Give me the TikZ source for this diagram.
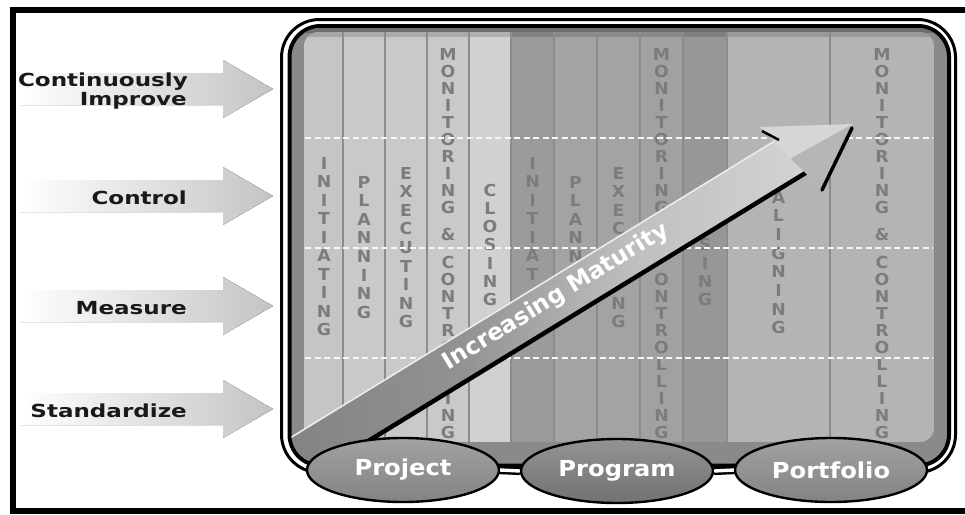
\documentclass[tikz,border=0pt]{standalone}
\usepackage{fontspec}
\usepackage{graphicx}
\newfontfamily\heavy{DejaVu Sans}
\usetikzlibrary{shapes.geometric}

\definecolor{pjA}{HTML}{C5C5C5}
\definecolor{pjB}{HTML}{C9C9C9}
\definecolor{pjC}{HTML}{D1D1D1}
\definecolor{pgA}{HTML}{9B9B9B}
\definecolor{pgB}{HTML}{A3A3A3}
\definecolor{pgC}{HTML}{A1A1A1}
\definecolor{pgD}{HTML}{979797}
\definecolor{pfA}{HTML}{B4B4B4}
\definecolor{sepgray}{HTML}{8C8C8C}
\definecolor{lettergray}{HTML}{7C7C7C}
\definecolor{bandgray}{HTML}{8A8A8A}
\definecolor{bandtop}{HTML}{6E6E6E}
\definecolor{arrowgray}{HTML}{C4C4C4}
\definecolor{shA}{HTML}{7E7E7E}
\definecolor{shB}{HTML}{929292}
\definecolor{shC}{HTML}{BFBFBF}
\definecolor{shD}{HTML}{D3D3D3}
\definecolor{headlight}{HTML}{D6D6D6}
\definecolor{headdark}{HTML}{B6B6B6}
\definecolor{stageT}{HTML}{A2A2A2}
\definecolor{stageB}{HTML}{838383}
\definecolor{stageTd}{HTML}{939393}
\definecolor{stageBd}{HTML}{727272}

\pgfdeclarehorizontalshading{shaftshade}{100bp}{color(0bp)=(shA); color(25bp)=(shA); color(45bp)=(shB); color(60bp)=(shC); color(75bp)=(shD); color(100bp)=(shD)}

% stack the letters of a word vertically: prefix, x, y of first letter, pitch, letters
% (an empty entry keeps the slot of a letter that lies under the arrow)
\newcommand\stackword[5]{%
  \foreach \ltr [count=\k] in {#5}{%
    \node[colletter] (#1\k) at (#2,{#3+(\k-1)*#4}) {\scalebox{1.05}[1]{\ltr}};
  }%
}

\begin{document}
\begin{tikzpicture}[x=1pt,y=-1pt,
  colletter/.style={font=\heavy\bfseries\fontsize{16.5}{16.5}\selectfont, text=lettergray, inner sep=0pt, text height=12pt, text depth=0pt},
  sidelabel/.style={font=\heavy\bfseries\fontsize{18}{19}\selectfont, text=black!90, inner sep=0pt, anchor=base east},
  sepline/.style={draw=sepgray, line width=1.2pt},
  gridline/.style={draw=white!94!gray, line width=1.3pt, dash pattern=on 6pt off 3.5pt},
  stage/.style={ellipse, draw=black, line width=2.4pt, minimum width=192pt, minimum height=64pt, inner sep=0pt, text=white, font=\heavy\bfseries\fontsize{22}{22}\selectfont},
  link/.style={draw=black, line width=2.4pt, double=white, double distance=3.4pt},
  sidearrow/.style={left color=white, right color=arrowgray}
]
\useasboundingbox (0,0) rectangle (965,514);
\fill[white] (0,0) rectangle (965,514);

% page frame
\draw[line width=6pt] (975,10) -- (13,10) -- (13,511) -- (975,511);

% side arrows with their labels
\foreach \yc in {89,196,306,409}{
  \fill[sidearrow] (20,\yc-16) -- (223,\yc-16) -- (223,\yc-29) -- (273,\yc)
        -- (223,\yc+29) -- (223,\yc+16) -- (20,\yc+16) -- cycle;
}
\node[sidelabel] (lcont) at (188,86.5) {\scalebox{1.28}[1]{Continuously}};
\node[sidelabel] (limpr) at (187,105) {\scalebox{1.28}[1]{Improve}};
\node[sidelabel] (lctrl) at (187,204) {\scalebox{1.28}[1]{Control}};
\node[sidelabel] (lmeas) at (187,314) {\scalebox{1.28}[1]{Measure}};
\node[sidelabel] (lstd)  at (187,417) {\scalebox{1.28}[1]{Standardize}};

% panel frame: black, white, black
\draw[line width=3pt, fill=white, rounded corners=38pt] (281.5,19.5) rectangle (955.5,472.5);
\draw[line width=4pt, fill=bandgray, rounded corners=31pt] (289.5,26) rectangle (949,465.5);
\begin{scope}
  \clip[rounded corners=29pt] (291.5,28) rectangle (947,463.5);
  \fill[bandtop] (291.5,28) rectangle (947,33);
\end{scope}

% phase columns
\begin{scope}
  \clip[rounded corners=14pt] (304,32) rectangle (934,442);
  \fill[pjA] (304,32) rectangle (343,442);
  \fill[pjB] (343,32) rectangle (469,442);
  \fill[pjC] (469,32) rectangle (511,442);
  \fill[pgA] (511,32) rectangle (554,442);
  \fill[pgB] (554,32) rectangle (640,442);
  \fill[pgC] (640,32) rectangle (683,442);
  \fill[pgD] (683,32) rectangle (727,442);
  \fill[pfA] (727,32) rectangle (934,442);
  \fill[black, opacity=.15] (304,32) rectangle (934,37);
  \foreach \xs in {343,385,427,469,511,554,597,640,683,727,830}{
    \draw[sepline] (\xs,32) -- (\xs,442);
  }
\end{scope}

% project phases
\stackword{ia}{324}{163}{18.55}{I,N,I,T,I,A,T,I,N,G}
\stackword{pa}{364}{182}{18.6}{P,L,A,N,N,I,N,G}
\stackword{ea}{406}{173}{18.6}{E,X,E,C,U,T,I,N,G}
\stackword{ma}{448}{54}{17}{M,O,N,I,T,O,R,I,N,G}
\node[colletter] (ampa) at (448,234) {\&};
\stackword{ka}{448}{262}{17}{C,O,N,T,R,O,{},{},I,N,G}
\stackword{la}{490}{190}{18.3}{C,L,O,S,I,N,G}
% program phases
\stackword{ib}{532.5}{163}{18.55}{I,N,I,T,I,A,T,{},{},{}}
\stackword{pb}{575.5}{182}{18.6}{P,L,A,N,N,{},{},{}}
\stackword{eb}{618.5}{173}{18.6}{E,X,E,C,{},{},{},N,G}
\stackword{mb}{661.5}{54}{17}{M,O,N,I,T,O,R,I,N,G}
\stackword{kb}{661.5}{262}{17}{{},O,N,T,R,O,L,L,I,N,G}
\stackword{lb}{705}{190}{18.3}{{},{},{},S,I,N,G}
% portfolio phases
\stackword{gc}{778.5}{197}{18.7}{A,L,I,G,N,I,N,G}
\stackword{mc}{882}{54}{17}{M,O,N,I,T,O,R,I,N,G}
\node[colletter] (ampc) at (882,234) {\&};
\stackword{kc}{882}{262}{17}{C,O,N,T,R,O,L,L,I,N,G}

% maturity levels
\foreach \yd in {138,248,358}{
  \draw[gridline] (305,\yd) -- (933,\yd);
}

% maturity arrow
\coordinate (sA) at (230,474.8);
\coordinate (sB) at (774.1,141.3);
\coordinate (sC) at (806.6,174.3);
\coordinate (sD) at (230,527.8);
\coordinate (hU) at (760,127);
\coordinate (hT) at (853,124);
\coordinate (hL) at (822,190);
\coordinate (hM) at (791,158.5);
\begin{scope}
  \clip[rounded corners=29pt] (291.5,28) rectangle (947,463.5);
  \shade[shading=shaftshade] (sA) -- (sB) -- (sC) -- (sD) -- cycle;
  \draw[white!85!gray, line width=1.6pt] (sA) -- (sB);
  \draw[black, line width=4.5pt] (230,525.8) -- (806.6,172.3);
  \fill[headlight] (hU) -- (hT) -- (hM) -- cycle;
  \fill[headdark] (hM) -- (hT) -- (hL) -- cycle;
  \draw[black, line width=3.5pt, line cap=round] (852,128) -- (hL);
  \draw[black, line width=2.5pt] (762,131) -- (779,140);
  \node[rotate=31.5, text=white, inner sep=0pt, font=\heavy\bfseries\fontsize{23.5}{23.5}\selectfont] (incr) at (556,297) {Increasing Maturity};
\end{scope}

% scope levels
\node[stage, top color=stageT, bottom color=stageB] (proj) at (403,470) {\scalebox{1.1}[1]{Project}};
\node[stage, top color=stageTd, bottom color=stageBd] (prog) at (617,471) {\scalebox{1.1}[1]{Program}};
\node[stage, top color=stageT, bottom color=stageB] (port) at (831,470) {\scalebox{1.1}[1]{Portfolio}};
\draw[link] (proj.east) -- (prog.west);
\draw[link] (prog.east) -- (port.west);
\end{tikzpicture}
\end{document}
